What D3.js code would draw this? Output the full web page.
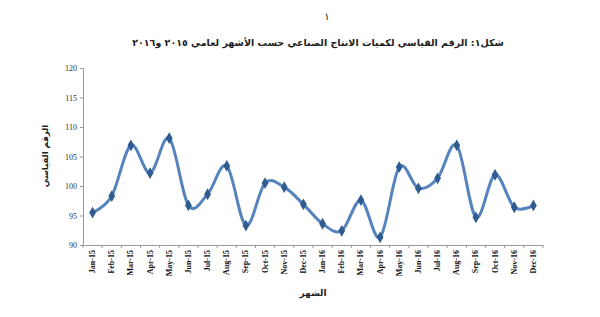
<!DOCTYPE html>
<html>
<head>
<meta charset="utf-8">
<script src="https://cdn.jsdelivr.net/npm/d3@7"></script>
<style>
  body { margin: 0; background: #fff; }
  svg { display: block; }
</style>
</head>
<body>
<div id="app"></div>
<script>
// months shown on the x axis
const months = [
  'Jan-15', 'Feb-15', 'Mar-15', 'Apr-15', 'May-15', 'Jun-15',
  'Jul-15', 'Aug-15', 'Sep-15', 'Oct-15', 'Nov-15', 'Dec-15',
  'Jan-16', 'Feb-16', 'Mar-16', 'Apr-16', 'May-16', 'Jun-16',
  'Jul-16', 'Aug-16', 'Sep-16', 'Oct-16', 'Nov-16', 'Dec-16'
];

// industrial production index
const indexValues = [
  95.5, 98.3, 106.9, 102.2, 108.1, 96.7,
  98.6, 103.4, 93.3, 100.5, 99.8, 96.9,
  93.6, 92.4, 97.6, 91.3, 103.2, 99.6,
  101.3, 106.9, 94.7, 101.9, 96.4, 96.7
];

const yTicks = [90, 95, 100, 105, 110, 115, 120];

const pageNumber = '١';
const title = 'شكل١: الرقم القياسي لكميات الانتاج الصناعي حسب الأشهر لعامي ٢٠١٥ و٢٠١٦';
const yTitle = 'الرقم القياسي';
const xTitle = 'الشهر';

const width = 600;
const height = 317;
const margin = { top: 68, right: 57, bottom: 72, left: 83 };

const svg = d3.select('#app')
  .append('svg')
  .attr('width', width)
  .attr('height', height);

const x = d3.scaleBand()
  .domain(months)
  .range([margin.left, width - margin.right]);

const y = d3.scaleLinear()
  .domain([90, 120])
  .range([height - margin.bottom, margin.top]);

// y axis
const yAxis = svg.append('g')
  .attr('transform', `translate(${margin.left},0)`)
  .call(d3.axisLeft(y).tickValues(yTicks).tickSize(3).tickPadding(3));
yAxis.select('.domain').attr('stroke', '#999');
yAxis.selectAll('.tick line').attr('stroke', '#999');
yAxis.selectAll('text')
  .attr('font-family', 'Liberation Serif, serif')
  .attr('font-size', 8)
  .attr('fill', '#333');

// x axis with ticks on band edges
const xAxis = svg.append('g')
  .attr('transform', `translate(0,${height - margin.bottom})`)
  .call(d3.axisBottom(x).tickSize(0).tickPadding(4));
xAxis.select('.domain').attr('stroke', '#999');
xAxis.selectAll('text')
  .attr('font-family', 'Liberation Serif, serif')
  .attr('font-weight', 'bold')
  .attr('font-size', 8)
  .attr('fill', '#111')
  .attr('text-anchor', 'end')
  .attr('transform', 'rotate(-90)')
  .attr('x', -5)
  .attr('y', 0)
  .attr('dy', '0.32em');

xAxis.selectAll('line.edge')
  .data(months.concat(['end']))
  .join('line')
  .attr('class', 'edge')
  .attr('x1', (d, i) => i < months.length ? x(d) : x.range()[1])
  .attr('x2', (d, i) => i < months.length ? x(d) : x.range()[1])
  .attr('y1', 0)
  .attr('y2', 3)
  .attr('stroke', '#999');

// smoothed line
const line = d3.line()
  .x((d, i) => x(months[i]) + x.bandwidth() / 2)
  .y(d => y(d))
  .curve(d3.curveCardinal.tension(0));

svg.append('path')
  .datum(indexValues)
  .attr('fill', 'none')
  .attr('stroke', '#5583bd')
  .attr('stroke-width', 3)
  .attr('d', line);

// diamond markers
svg.selectAll('path.marker')
  .data(indexValues)
  .join('path')
  .attr('class', 'marker')
  .attr('d', d3.symbol(d3.symbolDiamond, 40))
  .attr('transform', (d, i) => `translate(${x(months[i]) + x.bandwidth() / 2},${y(d)})`)
  .attr('fill', '#2f5b91');

// texts
svg.append('text')
  .attr('x', 327)
  .attr('y', 20)
  .attr('text-anchor', 'middle')
  .attr('font-family', 'DejaVu Sans')
  .attr('font-size', 10)
  .attr('fill', '#222')
  .text(pageNumber);

svg.append('text')
  .attr('x', 318)
  .attr('y', 46)
  .attr('text-anchor', 'middle')
  .attr('direction', 'rtl')
  .attr('font-family', 'DejaVu Sans')
  .attr('font-weight', 'bold')
  .attr('font-size', 9.5)
  .attr('fill', '#222')
  .text(title);

svg.append('text')
  .attr('transform', 'translate(48,156) rotate(-90)')
  .attr('text-anchor', 'middle')
  .attr('direction', 'rtl')
  .attr('font-family', 'DejaVu Sans')
  .attr('font-weight', 'bold')
  .attr('font-size', 8.5)
  .attr('fill', '#222')
  .text(yTitle);

svg.append('text')
  .attr('x', 313)
  .attr('y', 296)
  .attr('text-anchor', 'middle')
  .attr('direction', 'rtl')
  .attr('font-family', 'DejaVu Sans')
  .attr('font-weight', 'bold')
  .attr('font-size', 9)
  .attr('fill', '#222')
  .text(xTitle);
</script>
</body>
</html>
